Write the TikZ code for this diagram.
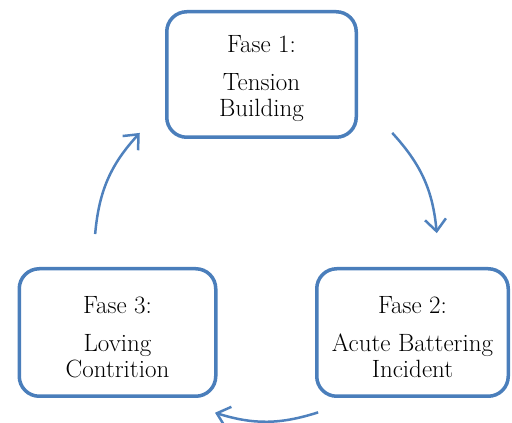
\documentclass[tikz,border=0pt]{standalone}
\usetikzlibrary{arrows.meta}
\definecolor{boxblue}{RGB}{74,126,187}
\definecolor{arrowblue}{RGB}{79,129,189}
\newcommand{\phasetop}{\rule{0pt}{26pt}}

\begin{document}
\begin{tikzpicture}[x=1pt,y=1pt,
  phase node/.style={draw=boxblue,line width=3.5pt,rounded corners=20pt,fill=white,
    minimum width=189.5pt,minimum height=127.5pt,align=center,
    font=\fontsize{25}{26}\selectfont},
  cycle arrow/.style={draw=arrowblue,line width=2.5pt,
    -{Straight Barb[length=12pt,width=21pt]}}]

  \useasboundingbox (0,0) rectangle (512,423);

  \node[phase node,minimum height=125.5pt] (fase1) at (261.5,348.5) {\phasetop Fase 1:\\[12pt]Tension\\Building};
  \node[phase node,minimum width=191.5pt] (fase2) at (412.5,90.5) {\phasetop Fase 2:\\[12pt]Acute Battering\\Incident};
  \node[phase node,minimum width=196.5pt] (fase3) at (117.5,90.5) {\phasetop Fase 3:\\[12pt]Loving\\Contrition};

  % free ends of the arrows, on one circle round the cycle
  \coordinate (hub) at (266,174);
  \path (hub) ++(42.6:171.5) coordinate (s12)
        (hub) ++(5.3:171.5) coordinate (e12)
        (hub) ++(-72.3:171.5) coordinate (s23)
        (hub) ++(-107.3:171.5) coordinate (e23)
        (hub) ++(175:171.5) coordinate (s31)
        (hub) ++(137.4:171.5) coordinate (e31);

  \draw[cycle arrow] (s12) to[bend left=18.6] (e12);
  \draw[cycle arrow] (s23) to[bend left=17.5] (e23);
  \draw[cycle arrow] (s31) to[bend left=18.8] (e31);
\end{tikzpicture}
\end{document}
